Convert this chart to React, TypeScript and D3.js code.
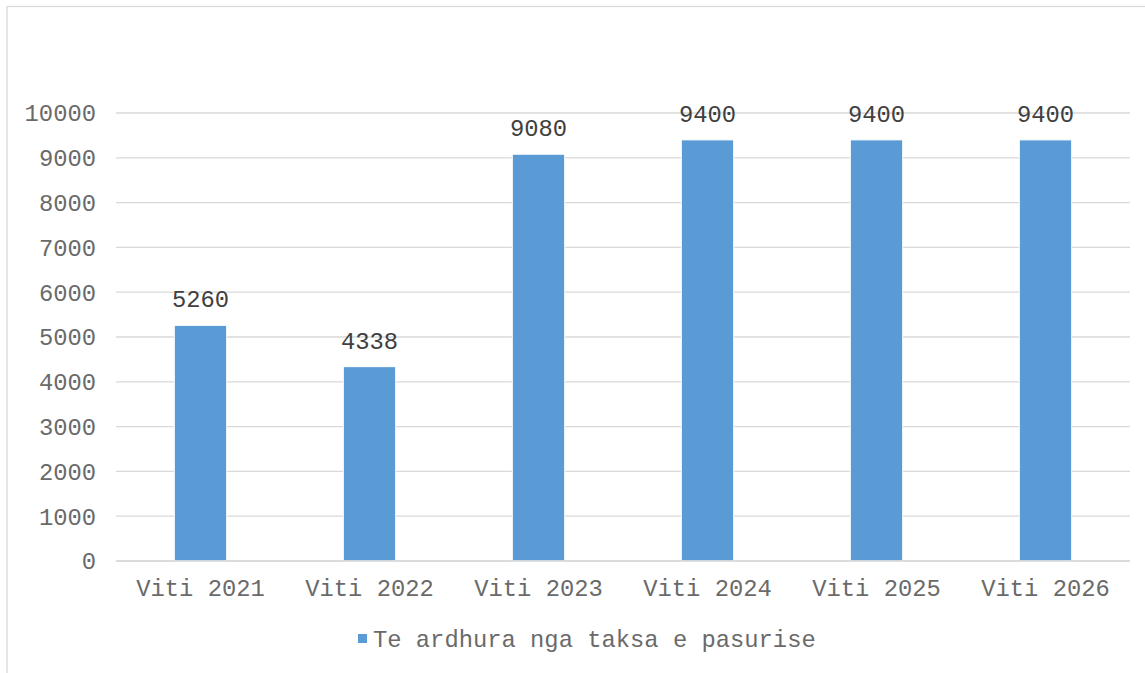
import React from "react";
import * as d3 from "d3";

const categories = ["Viti 2021", "Viti 2022", "Viti 2023", "Viti 2024", "Viti 2025", "Viti 2026"];
const values = [5260, 4338, 9080, 9400, 9400, 9400];
const yTicks = [0, 1000, 2000, 3000, 4000, 5000, 6000, 7000, 8000, 9000, 10000];
const seriesName = "Te ardhura nga taksa e pasurise";

const W = 1145;
const H = 673;
const FONT = "'Liberation Mono', 'Courier New', monospace";
const FS = 23.8;

export default function App() {
  const left = 116, right = 1130, top = 113, bottom = 561;
  const x = d3.scaleBand<string>().domain(categories).range([left, right]).paddingInner(0.69).paddingOuter(0.345);
  const y = d3.scaleLinear().domain([0, 10000]).range([bottom, top]);
  const barW = x.bandwidth();

  return (
    <div style={{ position: "absolute", left: 0, top: 0 }}>
      <svg width={W} height={H} style={{ display: "block", background: "#fff" }}>
        <rect x={7} y={6.5} width={W + 10} height={H + 10} fill="#fff" stroke="#d9d9d9" strokeWidth={1.3} />
        {yTicks.map((t) => (
          <g key={t}>
            <line x1={left} x2={right} y1={y(t)} y2={y(t)} stroke="#d9d9d9" strokeWidth={1.3} />
            <text x={96} y={y(t)} dy="0.35em" textAnchor="end" fontFamily={FONT} fontSize={FS} fill="#6a6a6a">
              {t}
            </text>
          </g>
        ))}
        {categories.map((c, i) => (
          <g key={c}>
            <rect
              x={x(c)!}
              y={y(values[i])}
              width={barW}
              height={bottom - y(values[i])}
              fill="#5b9bd5"
              stroke="#fff"
              strokeWidth={1}
            />
            <text
              x={x(c)! + barW / 2}
              y={y(values[i]) - 18}
              textAnchor="middle"
              fontFamily={FONT}
              fontSize={FS}
              fill="#404040"
            >
              {values[i]}
            </text>
            <text
              x={x(c)! + barW / 2}
              y={588}
              dy="0.35em"
              textAnchor="middle"
              fontFamily={FONT}
              fontSize={FS}
              fill="#6a6a6a"
            >
              {c}
            </text>
          </g>
        ))}
        <line x1={left} x2={right} y1={bottom} y2={bottom} stroke="#d9d9d9" strokeWidth={1.3} />
        <rect x={358} y={634} width={9} height={9} fill="#5b9bd5" />
        <text x={373} y={639} dy="0.35em" fontFamily={FONT} fontSize={FS} fill="#6a6a6a">
          {seriesName}
        </text>
      </svg>
    </div>
  );
}
